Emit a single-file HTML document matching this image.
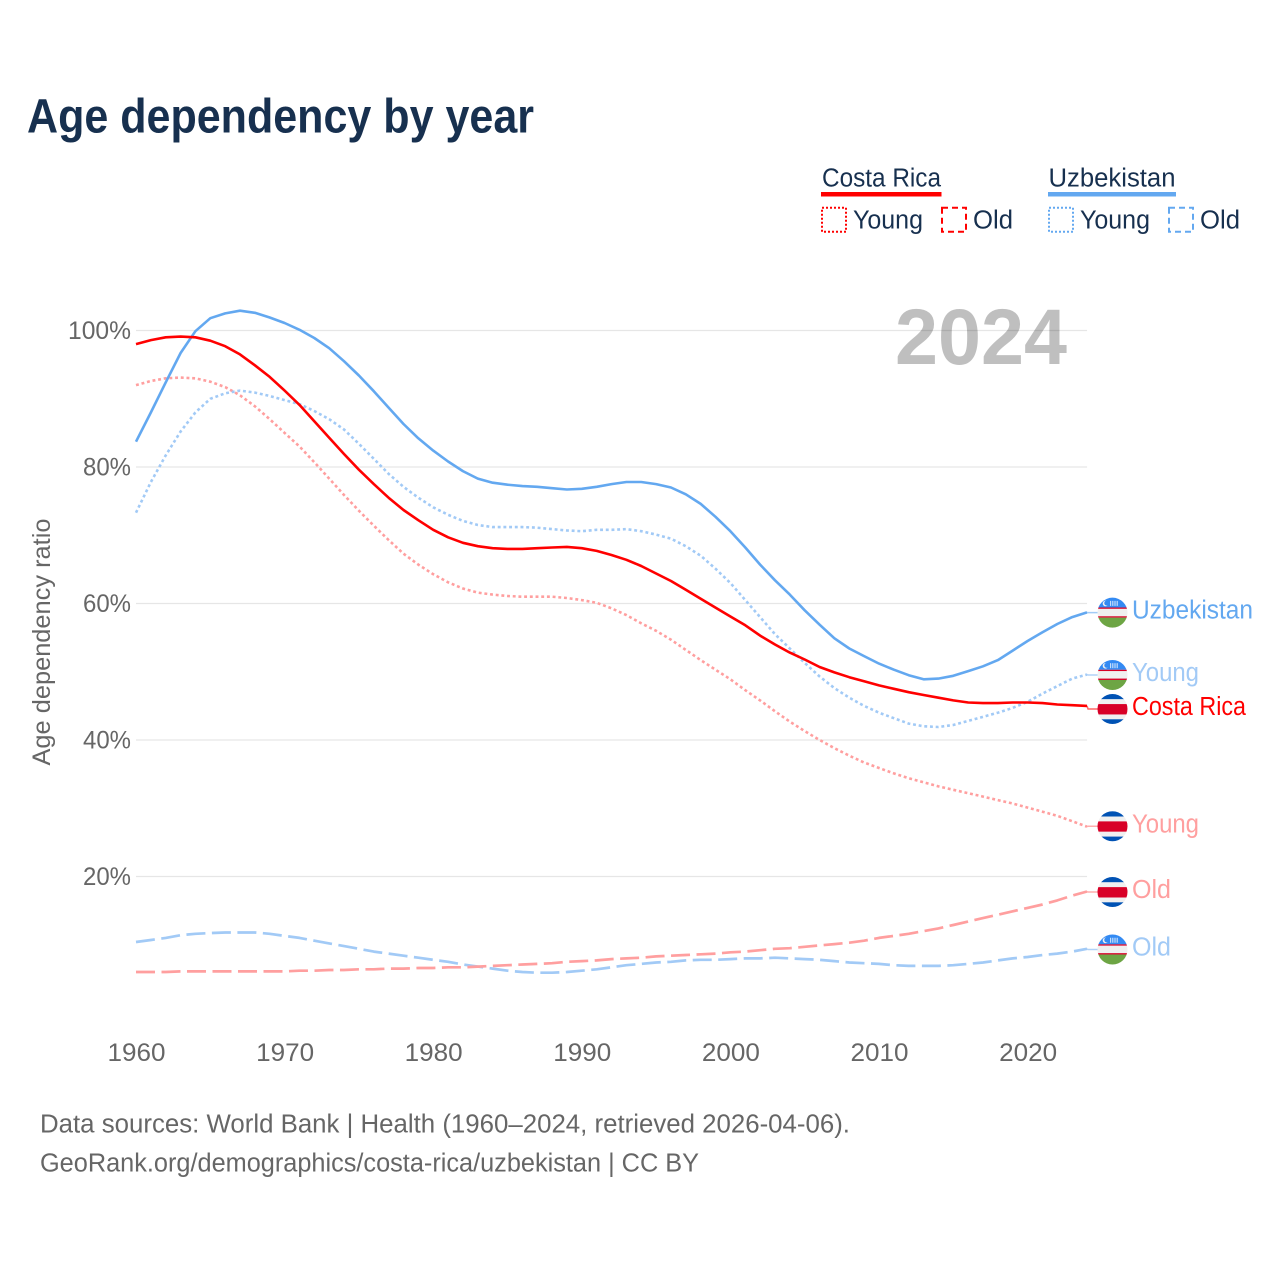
<!DOCTYPE html>
<html lang="en">
<head>
<meta charset="utf-8">
<title>Age dependency by year</title>
<style>
html,body{margin:0;padding:0;background:#fff;}
svg{display:block;}
text{font-family:"Liberation Sans",sans-serif;}
</style>
</head>
<body>
<svg id="chart" xmlns="http://www.w3.org/2000/svg" width="1280" height="1280" viewBox="0 0 1280 1280">
  <rect x="0" y="0" width="1280" height="1280" fill="#ffffff"/>
  <text x="27" y="132.500" font-size="48" font-weight="700" fill="#17304f" textLength="507" lengthAdjust="spacingAndGlyphs">Age dependency by year</text>

  <g fill="#17304f" font-size="25.5">
    <text x="822" y="186.500" textLength="119" lengthAdjust="spacingAndGlyphs">Costa Rica</text>
    <rect x="821" y="192" width="120.5" height="4.5" fill="#ff0000"/>
    <rect x="822" y="207.700" width="24" height="24" fill="none" stroke="#ff0000" stroke-width="2" stroke-dasharray="2 2"/>
    <text x="853" y="228.500" textLength="70" lengthAdjust="spacingAndGlyphs">Young</text>
    <rect x="942" y="207.700" width="24" height="24" fill="none" stroke="#ff0000" stroke-width="2" stroke-dasharray="6 4"/>
    <text x="973" y="228.500" textLength="40" lengthAdjust="spacingAndGlyphs">Old</text>

    <text x="1048.500" y="186.500" textLength="127" lengthAdjust="spacingAndGlyphs">Uzbekistan</text>
    <rect x="1048" y="192" width="128" height="4.5" fill="#63a8f0"/>
    <rect x="1049" y="207.700" width="24" height="24" fill="none" stroke="#63a8f0" stroke-width="2" stroke-dasharray="2 2"/>
    <text x="1080" y="228.500" textLength="70" lengthAdjust="spacingAndGlyphs">Young</text>
    <rect x="1169" y="207.700" width="24" height="24" fill="none" stroke="#63a8f0" stroke-width="2" stroke-dasharray="6 4"/>
    <text x="1200" y="228.500" textLength="40" lengthAdjust="spacingAndGlyphs">Old</text>
  </g>

  <text transform="translate(50,642) rotate(-90)" text-anchor="middle" font-size="25" fill="#666666" textLength="247" lengthAdjust="spacingAndGlyphs">Age dependency ratio</text>

  <g id="grid"></g>
  <text x="895" y="364" font-size="79" font-weight="700" fill="#000000" fill-opacity="0.25" textLength="172" lengthAdjust="spacingAndGlyphs">2024</text>
  <g id="series"></g>
  <g id="labels"></g>

  <g font-size="25.5" fill="#666666">
    <text x="40" y="1132.500" textLength="810" lengthAdjust="spacingAndGlyphs">Data sources: World Bank | Health (1960–2024, retrieved 2026-04-06).</text>
    <text x="40" y="1171.500" textLength="659" lengthAdjust="spacingAndGlyphs">GeoRank.org/demographics/costa-rica/uzbekistan | CC BY</text>
  </g>
</svg>
<script>
const years = [1960,1961,1962,1963,1964,1965,1966,1967,1968,1969,1970,1971,1972,1973,1974,1975,1976,1977,1978,1979,1980,1981,1982,1983,1984,1985,1986,1987,1988,1989,1990,1991,1992,1993,1994,1995,1996,1997,1998,1999,2000,2001,2002,2003,2004,2005,2006,2007,2008,2009,2010,2011,2012,2013,2014,2015,2016,2017,2018,2019,2020,2021,2022,2023,2024];
const xTicks = [1960,1970,1980,1990,2000,2010,2020];
const yTicks = [20,40,60,80,100];
const uzTotal = [83.7,88,92.4,96.7,99.9,101.8,102.5,102.9,102.6,101.9,101.1,100.1,98.9,97.4,95.5,93.4,91.1,88.7,86.3,84.2,82.4,80.8,79.4,78.3,77.7,77.4,77.2,77.1,76.9,76.7,76.8,77.1,77.5,77.8,77.8,77.5,77,76,74.6,72.7,70.6,68.2,65.7,63.4,61.3,59,56.9,54.9,53.4,52.3,51.2,50.3,49.5,48.9,49,49.4,50.1,50.8,51.7,53.1,54.5,55.8,57,58,58.7];
const crTotal = [98,98.6,99,99.1,99,98.5,97.7,96.5,94.9,93.2,91.2,89.1,86.7,84.3,81.9,79.6,77.5,75.5,73.7,72.2,70.8,69.7,68.9,68.4,68.1,68,68,68.1,68.2,68.3,68.1,67.7,67.1,66.4,65.5,64.4,63.3,62,60.7,59.4,58.1,56.8,55.3,54,52.8,51.8,50.7,49.9,49.2,48.6,48,47.5,47,46.6,46.2,45.8,45.5,45.4,45.4,45.5,45.5,45.4,45.2,45.1,45];
const uzYoung = [73.3,77.8,81.7,85.2,88,90,90.8,91.2,90.9,90.4,89.8,89.2,88.2,87,85.5,83.4,81.2,79,77.1,75.5,74.1,73,72.1,71.5,71.2,71.2,71.2,71.1,70.9,70.7,70.6,70.8,70.8,70.9,70.6,70.1,69.5,68.4,67,65.1,63,60.5,58,55.5,53.4,51.3,49.3,47.6,46.2,45,44,43.2,42.4,42,41.9,42.2,42.8,43.4,44,44.7,45.6,46.8,47.9,49,49.6];
const crYoung = [92,92.6,93,93.1,93,92.5,91.7,90.5,88.9,87,85,83,80.7,78.3,75.9,73.6,71.4,69.3,67.3,65.7,64.3,63.1,62.2,61.6,61.3,61.1,61,61,61,60.8,60.5,60.1,59.3,58.3,57.1,56,54.7,53.2,51.7,50.3,48.9,47.3,45.8,44.2,42.7,41.3,40,38.8,37.7,36.7,35.9,35.1,34.4,33.8,33.2,32.7,32.2,31.7,31.2,30.7,30.1,29.5,28.9,28.1,27.3];
const crOld = [6,6,6,6.1,6.1,6.1,6.1,6.1,6.1,6.1,6.1,6.2,6.2,6.3,6.3,6.4,6.4,6.5,6.5,6.6,6.6,6.7,6.7,6.8,6.9,7,7.1,7.2,7.3,7.5,7.6,7.7,7.9,8,8.1,8.3,8.4,8.5,8.6,8.7,8.9,9,9.2,9.4,9.5,9.7,9.9,10.1,10.3,10.6,11,11.3,11.6,12,12.4,12.9,13.4,13.9,14.4,14.9,15.4,15.9,16.5,17.2,17.8];
const uzOld = [10.4,10.7,11,11.4,11.6,11.7,11.8,11.8,11.8,11.6,11.3,11,10.6,10.2,9.8,9.4,9,8.7,8.4,8.1,7.8,7.5,7.1,6.8,6.5,6.2,6,5.9,5.9,6,6.2,6.4,6.7,7,7.2,7.4,7.5,7.7,7.8,7.8,7.9,8,8,8.1,8,7.9,7.8,7.6,7.4,7.3,7.2,7,6.9,6.9,6.9,7,7.2,7.4,7.7,8,8.2,8.5,8.7,9,9.4];

const NS = 'http://www.w3.org/2000/svg';
const X0 = 136, PX_PER_YEAR = 14.86;
const Y0 = 1013, PX_PER_PCT = 6.825;
const x = function (yr) { return X0 + (yr - years[0]) * PX_PER_YEAR; };
const y = function (v) { return Y0 - v * PX_PER_PCT; };

function make(tag, attrs, parent) {
  const el = document.createElementNS(NS, tag);
  for (const k in attrs) el.setAttribute(k, attrs[k]);
  parent.appendChild(el);
  return el;
}

const grid = document.getElementById('grid');
yTicks.forEach(function (t) {
  const line = make('line', {x1: X0, x2: x(years[years.length - 1]), y1: y(t), y2: y(t), stroke: '#e6e6e6', 'stroke-width': 1.2}, grid);
  
  
  const label = make('text', {x: 131, y: y(t) + 8.5, 'text-anchor': 'end', 'font-size': 25, fill: '#666666', textLength: t === 100 ? 63 : 48, lengthAdjust: 'spacingAndGlyphs'}, grid);
  label.textContent = t + '%';
  
  
});
xTicks.forEach(function (t) {
  const label = make('text', {x: x(t) + 0.5, y: 1061, 'text-anchor': 'middle', 'font-size': 25, fill: '#666666', textLength: 58, lengthAdjust: 'spacingAndGlyphs'}, grid);
  label.textContent = String(t);
  
  
});

const seriesList = [
  {key: 'uzbekistan-old', values: uzOld, color: '#a2caf6', dash: '19 6.5', width: 2.7, label: 'Old', flag: 'uz', nudge: 0.7, tw: 39, dy: 6},
  {key: 'costa-rica-old', values: crOld, color: '#ff9f9f', dash: '19 6.5', width: 2.7, label: 'Old', flag: 'cr', nudge: 0.5, tw: 39, dy: 6},
  {key: 'costa-rica-young', values: crYoung, color: '#ff9f9f', dash: '2.9 2.8', width: 2.6, label: 'Young', flag: 'cr', nudge: -0.4, tw: 67, dy: 6},
  {key: 'uzbekistan-young', values: uzYoung, color: '#a2caf6', dash: '2.9 2.8', width: 2.6, label: 'Young', flag: 'uz', nudge: 0.5, tw: 67, dy: 6},
  {key: 'uzbekistan-total', values: uzTotal, color: '#63a8f0', dash: '', width: 2.6, label: 'Uzbekistan', flag: 'uz', nudge: 0.3, tw: 121, dy: 6},
  {key: 'costa-rica-total', values: crTotal, color: '#ff0000', dash: '', width: 2.6, label: 'Costa Rica', flag: 'cr', nudge: 3.1, tw: 114, dy: 6}
];

const seriesG = document.getElementById('series');
const labelsG = document.getElementById('labels');

function flagRect(group, top, bottom, fill) {
  const r = make('rect', {x: 1096, y: top, width: 33, height: bottom - top, fill: fill}, group);
  return r;
}

seriesList.forEach(function (s, idx) {
  const pts = s.values.map(function (v, i) { return x(years[i]).toFixed(1) + ',' + y(v).toFixed(1); }).join(' ');
  const attrs = {points: pts, fill: 'none', stroke: s.color, 'stroke-width': s.width, 'stroke-linejoin': 'round'};
  if (s.dash) attrs['stroke-dasharray'] = s.dash;
  const line = make('polyline', attrs, seriesG);
  
  

  const last = s.values[s.values.length - 1];
  const endX = x(years[years.length - 1]);
  const ly = y(last) + s.nudge;
  const leaderPts = endX + ',' + y(last) + ' ' + (endX + 1) + ',' + ly + ' 1098,' + ly;
  const leader = make('polyline', {points: leaderPts, fill: 'none', stroke: s.color, 'stroke-width': 1.5, 'stroke-opacity': s.dash ? 0.85 : 0.6}, labelsG);
  
  

  const fy = ly;
  const clip = make('clipPath', {id: 'flag-clip-' + idx}, labelsG);
  make('circle', {cx: 1112.500, cy: fy, r: 15}, clip);
  const g = make('g', {'clip-path': 'url(#flag-clip-' + idx + ')'}, labelsG);
  
  
  const top = fy - 15.2;
  if (s.flag === 'uz') {
    flagRect(g, top, top + 10, '#338af3');
    flagRect(g, top + 10, top + 11.4, '#d80027');
    flagRect(g, top + 11.4, top + 18.8, '#f0f0f0');
    flagRect(g, top + 18.8, top + 20.2, '#d80027');
    flagRect(g, top + 20.2, top + 31, '#6da544');
    make('circle', {cx: 1105.5, cy: top + 6, r: 2.8, fill: '#f0f0f0'}, g);
    make('circle', {cx: 1106.8, cy: top + 5.6, r: 2.5, fill: '#338af3'}, g);
    [1110, 1112.2, 1114.4, 1116.6].forEach(function (dx) {
      const dots = make('rect', {x: dx, y: top + 3.4, width: 1.2, height: 5, fill: '#eaf3fd', 'fill-opacity': 0.8}, g);
      
      
    });
  } else {
    flagRect(g, top, top + 5.5, '#0052b4');
    flagRect(g, top + 5.5, top + 10.3, '#f0f0f0');
    flagRect(g, top + 10.3, top + 20.7, '#d80027');
    flagRect(g, top + 20.7, top + 25.5, '#f0f0f0');
    flagRect(g, top + 25.5, top + 31, '#0052b4');
  }

  const t = make('text', {x: 1132, y: fy + s.dy, 'font-size': 25.5, fill: s.color, textLength: s.tw, lengthAdjust: 'spacingAndGlyphs'}, labelsG);
  t.textContent = s.label;
  
  
});
</script>
</body>
</html>
